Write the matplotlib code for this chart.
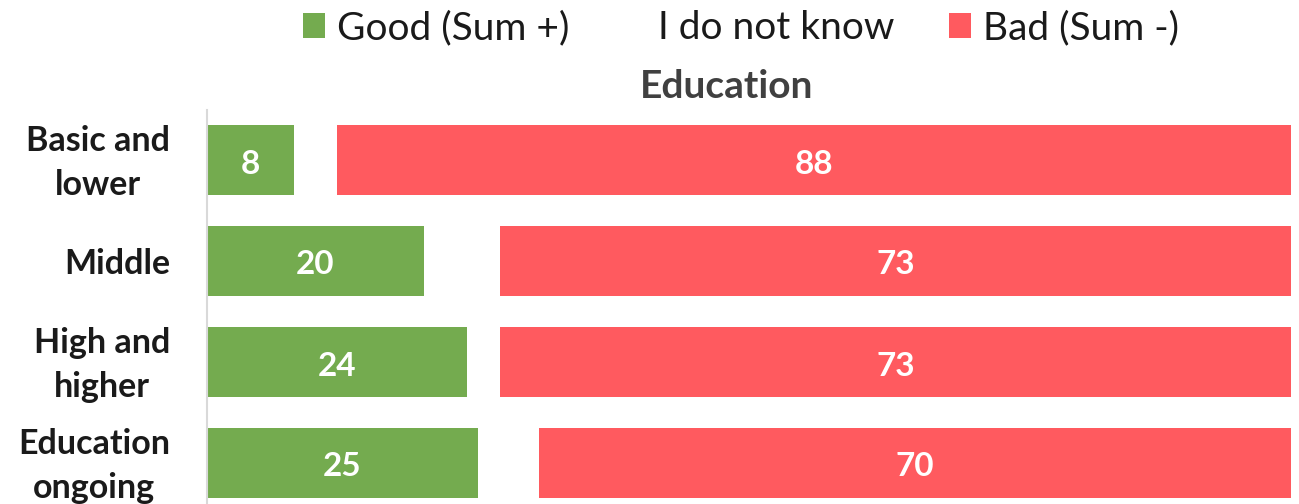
import numpy as np
import matplotlib.pyplot as plt
from matplotlib.transforms import ScaledTranslation

categories = ["Basic and\nlower", "Middle", "High and\nhigher", "Education\nongoing"]
good = [8, 20, 24, 25]
dont_know = [4, 7, 3, 5.6]
bad = [88, 73, 73, 70]

green = '#74AB4F'
red = '#FF5A5F'

plt.rcParams['font.family'] = ['Lato', 'DejaVu Sans']

fig = plt.figure(figsize=(12.99, 5.04), dpi=100)
ax = fig.add_axes([207/1299, -9.5/504, 1084/1299, 404/504])

y = np.arange(len(categories))
good = np.array(good)
dont_know = np.array(dont_know)
bad = np.array(bad)

b1 = ax.barh(y, good, height=0.69, color=green, label='Good (Sum +)')
b2 = ax.barh(y, dont_know, left=good, height=0.69, color='white', label='I do not know')
b3 = ax.barh(y, bad, left=good + dont_know, height=0.69, color=red, label='Bad (Sum -)')

# value labels, moved down a few pixels to sit like the original
down = ScaledTranslation(0, -4/100, fig.dpi_scale_trans)
for bars, vals in [(b1, good), (b3, bad)]:
    for bar, v in zip(bars, vals):
        x0 = bar.get_x()
        x1 = min(bar.get_x() + bar.get_width(), 100)
        ax.text((x0 + x1) / 2, bar.get_y() + bar.get_height() / 2,
                str(v), ha='center', va='center', color='white', fontsize=24,
                fontweight='bold', transform=ax.transData + down)

ax.set_xlim(0, 100)
ax.set_ylim(len(categories) - 0.5, -0.5)
ax.set_yticks(y)
ax.set_yticklabels(categories, fontsize=24.5, fontweight='bold', color='#1a1a1a',
                   linespacing=1.45, multialignment='center')
ax.tick_params(axis='y', length=0, pad=26.5)
# two-line labels sit a bit low, nudge them up
up = ScaledTranslation(0, 6/100, fig.dpi_scale_trans)
for lbl in ax.get_yticklabels():
    if '\n' in lbl.get_text():
        lbl.set_transform(lbl.get_transform() + up)
ax.set_xticks([])
for s in ['top', 'right', 'bottom']:
    ax.spines[s].set_visible(False)
ax.spines['left'].set_color('#d9d9d9')
ax.spines['left'].set_linewidth(1.5)

fig.text(727/1299, 1 - 86/504, 'Education', ha='center', va='center',
         fontsize=28, fontweight='bold', color='#404040')

fig.legend(handles=[b1, b2, b3], loc='center', bbox_to_anchor=(741/1299, 1 - 28/504),
           ncol=3, frameon=False, fontsize=28, handlelength=0.58, handleheight=0.6,
           handletextpad=0.3, columnspacing=1.4, labelcolor='#1a1a1a')

fig.savefig('out.png', dpi=100)
